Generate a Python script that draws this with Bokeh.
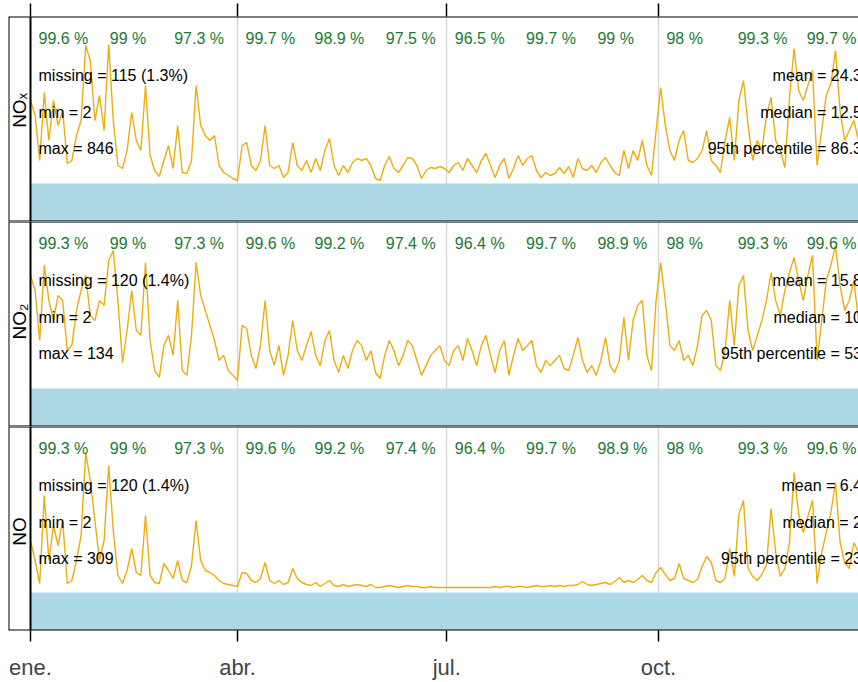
import math
import pandas as pd
from bokeh.plotting import figure
from bokeh.layouts import column
from bokeh.models import Span, FixedTicker, LinearAxis, Range1d, Grid
from bokeh.core.properties import value
from bokeh.embed import file_html
from bokeh.resources import INLINE

# ---------------- data (daily means, read every 2 days) ----------------
nox = [83, 68, 23, 91, 43, 83, 58, 73, 20, 23, 48, 63, 138, 123, 63, 88, 53, 139, 63, 18,
       15, 33, 71, 43, 33, 98, 28, 13, 7, 23, 38, 15, 58, 11, 10, 23, 98, 58, 48, 43,
       48, 18, 11, 8, 5, 3, 38, 41, 18, 13, 23, 58, 18, 15, 18, 6, 11, 41, 18, 13,
       23, 11, 25, 13, 33, 45, 18, 8, 18, 11, 21, 25, 23, 25, 18, 5, 3, 18, 27, 15,
       11, 18, 26, 25, 18, 5, 13, 16, 15, 17, 15, 11, 18, 21, 13, 25, 18, 11, 23, 30,
       18, 6, 18, 25, 5, 15, 28, 18, 25, 28, 13, 6, 11, 8, 10, 16, 10, 17, 6, 25,
       15, 13, 18, 11, 21, 26, 18, 11, 8, 33, 15, 33, 23, 43, 18, 8, 53, 96, 58, 33,
       23, 43, 53, 23, 21, 25, 33, 53, 23, 18, 11, 43, 66, 23, 83, 103, 58, 23, 43, 33,
       68, 86, 43, 33, 16, 86, 135, 93, 83, 98, 113, 18, 53, 88, 100, 133, 73, 43, 53, 63,
       43, 63, 73]

no2 = [39.6, 34.3, 16.8, 43.1, 30.8, 23.8, 32.6, 30.8, 13.3, 15.1, 27.3, 34.3, 39.6, 25.6, 23.8, 30.8, 29.1, 44.8, 48.3, 30.8,
       9.1, 20.3, 34.3, 20.3, 18.6, 44.1, 16.8, 6.3, 3.9, 15.1, 18.6, 11.6, 30.8, 6.3, 4.6, 18.6, 44.1, 32.6, 27.3, 22.1,
       16.8, 9.8, 11.6, 6.3, 4.6, 2.8, 22.1, 21.0, 11.6, 7.0, 15.1, 30.8, 13.3, 8.1, 15.1, 4.6, 11.6, 23.8, 13.3, 9.8,
       15.0, 20.0, 11.6, 8.0, 16.8, 20.3, 9.8, 5.6, 11.6, 7.0, 13.3, 16.8, 15.0, 9.8, 13.3, 5.6, 3.5, 11.6, 16.8, 13.3,
       8.0, 11.6, 16.8, 15.0, 9.8, 4.6, 8.0, 11.6, 13.3, 15.0, 9.8, 8.0, 13.3, 15.0, 9.8, 17.5, 13.3, 8.0, 15.0, 18.6,
       11.6, 5.6, 13.3, 16.8, 4.6, 11.6, 17.5, 13.3, 15.0, 16.8, 8.0, 5.6, 9.8, 8.0, 9.8, 11.6, 7.0, 6.3, 11.6, 17.9,
       9.8, 5.6, 8.0, 4.6, 9.8, 17.9, 8.0, 5.6, 9.8, 24.9, 9.8, 23.8, 29.1, 30.8, 11.6, 6.3, 30.8, 44.1, 30.8, 15.0,
       13.3, 16.8, 9.8, 11.6, 8.0, 15.0, 25.6, 27.3, 23.8, 8.0, 6.3, 13.3, 30.8, 15.0, 36.0, 39.6, 20.3, 13.3, 18.6, 23.8,
       30.8, 40.6, 30.8, 25.6, 34.3, 40.6, 45.9, 37.8, 30.8, 39.6, 46.6, 9.8, 23.8, 37.8, 43.1, 50.0, 36.0, 27.3, 30.8, 37.8,
       23.8, 30.8, 34.3]

no = [26, 16, 4.5, 48.5, 16, 33.5, 23.5, 36, 4.5, 6, 16, 28.5, 70, 56, 36, 16, 26, 63.5, 31, 8.5,
      4.5, 11, 22, 10, 8.5, 38.5, 8.5, 5, 4.5, 14.5, 11, 7, 16, 6, 5, 13.5, 36, 16, 11, 10,
      8.5, 6, 4.5, 4, 3.5, 3, 10, 9.5, 6, 5, 7, 15, 6, 4.5, 6, 4, 5, 12, 7, 5,
      4, 3.5, 5, 3, 4.5, 6, 3.5, 3, 4, 3, 3.5, 4, 3.5, 3, 4, 2.5, 2.5, 3, 3.5, 3,
      2.5, 3, 3.5, 3, 3, 2.5, 2.5, 3, 2.5, 2.5, 2.5, 2.5, 2.5, 2.5, 2.5, 2.5, 2.5, 2.5, 2.5, 2.5,
      2.5, 3, 2.5, 3, 3, 2.5, 3, 3, 2.5, 3, 3.5, 3, 3, 3.5, 3, 3.5, 3, 3.5, 3.5, 4,
      5.5, 4, 3.5, 4, 4.5, 5, 4, 5.5, 7.5, 5, 6, 5, 6.5, 8.5, 6, 5, 10, 12.5, 9, 6,
      7, 14.5, 7, 6, 5, 6.5, 13, 18, 15, 6, 5, 7, 22, 8, 39, 46, 12, 8, 6, 9,
      14, 42, 20, 8, 12, 25, 60, 39, 30, 38, 46, 4.5, 20, 30, 40, 55, 25, 15, 12, 25,
      20, 22, 18]

month_labels = ["ene.", "abr.", "jul.", "oct."]
tick_months = ["2019-01-01", "2019-04-01", "2019-07-01", "2019-10-01"]

nox_pct = ["99.6 %", "99 %", "97.3 %", "99.7 %", "98.9 %", "97.5 %", "96.5 %", "99.7 %", "99 %", "98 %", "99.3 %", "99.7 %"]
no2_pct = ["99.3 %", "99 %", "97.3 %", "99.6 %", "99.2 %", "97.4 %", "96.4 %", "99.7 %", "98.9 %", "98 %", "99.3 %", "99.6 %"]
no_pct = ["99.3 %", "99 %", "97.3 %", "99.6 %", "99.2 %", "97.4 %", "96.4 %", "99.7 %", "98.9 %", "98 %", "99.3 %", "99.6 %"]

nox_left = ["missing = 115 (1.3%)", "min = 2", "max = 846"]
nox_right = ["mean = 24.3", "median = 12.5", "95th percentile = 86.3"]
no2_left = ["missing = 120 (1.4%)", "min = 2", "max = 134"]
no2_right = ["mean = 15.8", "median = 10", "95th percentile = 53"]
no_left = ["missing = 120 (1.4%)", "min = 2", "max = 309"]
no_right = ["mean = 6.4", "median = 2", "95th percentile = 23"]

# ---------------- layout helpers ----------------
def ms(ts):
    return pd.Timestamp(ts).value / 1e6

DAY = 86400000.0
year_start = ms("2019-01-01")
year_end = ms("2020-01-01")
dates = [ms(d) for d in pd.date_range("2019-01-01", periods=len(nox), freq="2D")]
month_starts = [ms(d) for d in pd.date_range("2019-01-01", periods=12, freq="MS")]
ticks = [ms(t) for t in tick_months]

PX_PER_DAY = 2.30
FRAME_W = 850
STRIP = 22
x_lo = year_start - STRIP / PX_PER_DAY * DAY
x_hi = year_start + (FRAME_W - STRIP) / PX_PER_DAY * DAY

FONT = value("Liberation Sans")
TREND = "#EEAD0E"
GREEN = "#1b7a32"


def panel(vals, y0, y1, fh, label, label_px, pcts, left, right, top_axis=False, bottom_axis=False):
    p = figure(frame_width=FRAME_W, frame_height=fh,
               x_range=Range1d(x_lo, x_hi), y_range=Range1d(y0, y1),
               x_axis_location=None, y_axis_location=None,
               output_backend="svg", toolbar_location=None,
               min_border_left=8, min_border_right=0,
               min_border_top=16 if top_axis else 0,
               min_border_bottom=52 if bottom_axis else 0,
               outline_line_color=None, background_fill_color="white")
    p.grid.visible = False
    p.add_layout(Grid(dimension=0, ticker=FixedTicker(ticks=ticks[1:]),
                      grid_line_color="#d9d9d9", grid_line_width=1.5))
    upp = (y1 - y0) / fh

    def ypx(px):
        return y1 - px * upp

    # data capture band
    p.quad(left=[year_start], right=[year_end], bottom=[y0 - 10 * upp], top=[0],
           fill_color="lightblue", line_color=None)
    p.line(dates, vals, line_color=TREND, line_width=1.4)

    p.text(x=month_starts, y=[ypx(22)] * 12, text=pcts, text_font=FONT,
           text_font_size="16px", text_color=GREEN, text_align="left",
           text_baseline="middle", x_offset=8)
    ys = [ypx(59), ypx(96), ypx(132)]
    p.text(x=[year_start] * 3, y=ys, text=left, text_font=FONT, text_font_size="16px",
           text_color="black", text_align="left", text_baseline="middle", x_offset=8)
    p.text(x=[year_end] * 3, y=ys, text=right, text_font=FONT, text_font_size="16px",
           text_color="black", text_align="right", text_baseline="middle", x_offset=-8)
    p.text(x=[(x_lo + year_start) / 2], y=[ypx(label_px)], text=[label], angle=math.pi / 2,
           text_font=FONT, text_font_size="19px", text_color="black",
           text_align="center", text_baseline="middle")

    # borders
    for loc in (y0, y1):
        p.add_layout(Span(location=loc, dimension="width", line_color="black", line_width=2))
    for loc in (x_lo, year_start):
        p.add_layout(Span(location=loc, dimension="height", line_color="black", line_width=2))

    if top_axis:
        ax = LinearAxis(ticker=FixedTicker(ticks=ticks),
                        major_label_overrides={t: "" for t in ticks},
                        major_label_text_font_size="0px", major_label_standoff=0,
                        major_tick_in=0, major_tick_out=13, major_tick_line_width=1.5,
                        minor_tick_line_color=None, axis_line_color=None)
        p.add_layout(ax, "above")
    if bottom_axis:
        ax = LinearAxis(ticker=FixedTicker(ticks=ticks),
                        major_label_overrides=dict(zip(ticks, month_labels)),
                        major_label_text_font_size="22px", major_label_text_font="Liberation Sans",
                        major_label_standoff=13,
                        major_tick_in=0, major_tick_out=11, major_tick_line_width=1.5,
                        minor_tick_line_color=None, axis_line_color=None)
        p.add_layout(ax, "below")
    return p


p1 = panel(nox, -38, 167, 205, "NOₓ", 94, nox_pct, nox_left, nox_right, top_axis=True)
p2 = panel(no2, -13.3, 58.45, 205, "NO₂", 100, no2_pct, no2_left, no2_right)
p3 = panel(no, -19, 83, 204, "NO", 105, no_pct, no_left, no_right, bottom_axis=True)

layout = column(p1, p2, p3, spacing=0)
open("out.html", "w").write(file_html(layout, INLINE))
